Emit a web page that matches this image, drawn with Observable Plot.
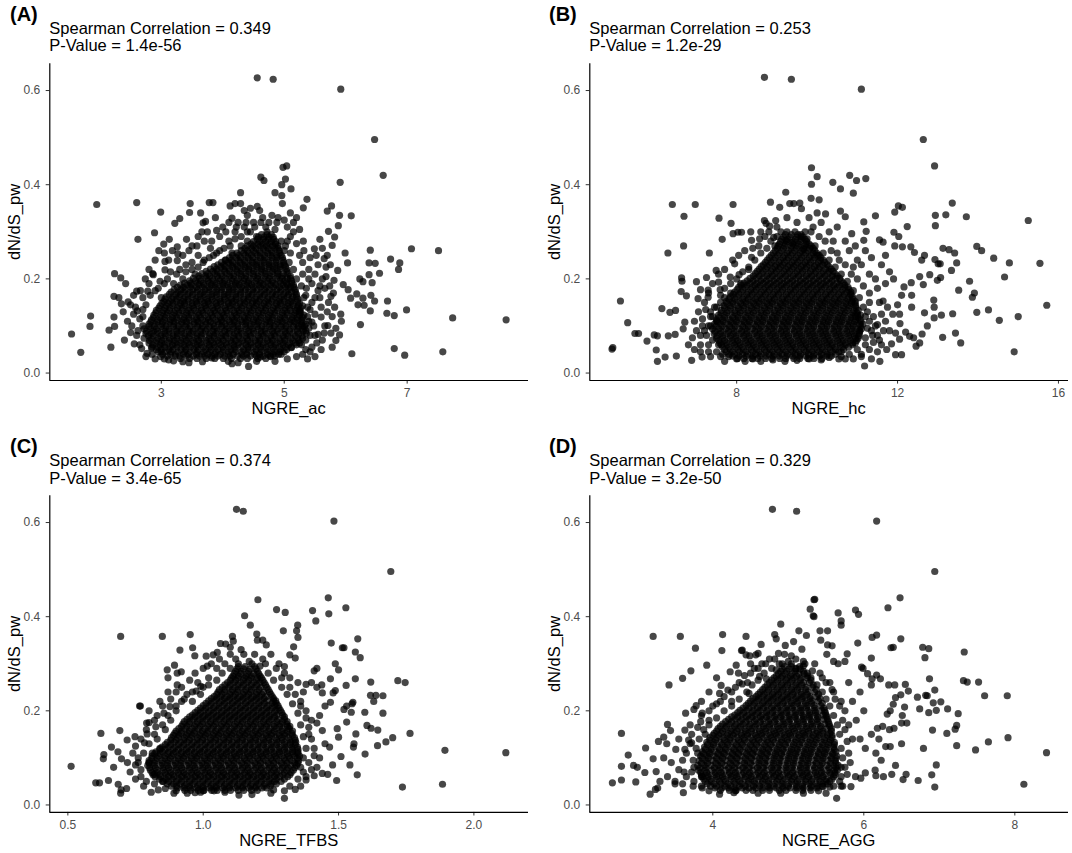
<!DOCTYPE html>
<html><head><meta charset="utf-8">
<script src="https://cdn.jsdelivr.net/npm/d3@7"></script>
<script src="https://cdn.jsdelivr.net/npm/@observablehq/plot@0.6"></script>
<style>
html,body{margin:0;padding:0;background:#fff;overflow:hidden;}
#root{position:relative;width:1072px;height:853px;font-family:"Liberation Sans",Arial,Helvetica,sans-serif;color:#000;}
.t{position:absolute;white-space:nowrap;line-height:1;}
.tag{font-weight:bold;font-size:20px;}
.sub{font-size:16.5px;}
.xt{font-size:16.5px;transform:translateX(-50%);}
.yt{font-size:16.5px;transform:translate(-50%,-50%) rotate(-90deg);}
svg{position:absolute;}
</style></head>
<body><div id="root"></div>
<script>
// ---------- text ----------
const tags = ["(A)", "(B)", "(C)", "(D)"];
const rhos = ["0.349", "0.253", "0.374", "0.329"];
const pvals = ["1.4e-56", "1.2e-29", "3.4e-65", "3.2e-50"];
const xLabels = ["NGRE_ac", "NGRE_hc", "NGRE_TFBS", "NGRE_AGG"];
const yLabel = "dN/dS_pw";
// ---------- axes ----------
const xTicks = [[3, 5, 7], [8, 12, 16], [0.5, 1.0, 1.5, 2.0], [4, 6, 8]];
const xTickText = [["3", "5", "7"], ["8", "12", "16"], ["0.5", "1.0", "1.5", "2.0"], ["4", "6", "8"]];
const xDomains = [[1.186, 8.974], [4.348, 16.25], [0.4333, 2.2017], [2.371, 8.711]];
const yTicks = [0, 0.2, 0.4, 0.6];
const yTickText = ["0.0", "0.2", "0.4", "0.6"];
const yDomain = [-0.0158, 0.6568];

// ---------- data: individually read points [x, dN/dS] ----------
const acPts = [[4.56,0.627],[4.82,0.624],[5.92,0.603],[6.47,0.496],[6.61,0.42],[5.91,0.405],[4.98,0.437],[5.04,0.44],[5.02,0.412],[4.96,0.4],[4.62,0.416],[4.67,0.409],[4.85,0.383],[4.96,0.377],[4.97,0.36],[5.11,0.391],[5.37,0.369],[5.31,0.351],[5.77,0.355],[5.7,0.344],[5.9,0.335],[6.09,0.334],[5.88,0.313],[5.72,0.301],[5.82,0.289],[5.58,0.284],[5.31,0.28],[6.4,0.261],[7.07,0.264],[7.51,0.26],[6.73,0.242],[6.88,0.234],[6.86,0.22],[5.99,0.255],[6.03,0.234],[6.38,0.234],[6.48,0.233],[6.55,0.212],[6.38,0.209],[6.23,0.2],[6.28,0.194],[6.43,0.192],[5.96,0.188],[6.04,0.177],[6.08,0.159],[6.18,0.168],[6.28,0.159],[6.41,0.165],[6.47,0.153],[6.2,0.145],[6.3,0.144],[6.4,0.132],[6.68,0.153],[6.67,0.127],[6.79,0.122],[6.99,0.134],[7.74,0.117],[8.61,0.113],[6.24,0.103],[6.1,0.041],[6.79,0.052],[6.96,0.038],[7.58,0.045],[5.3,0.04],[5.11,0.054],[5.92,0.125],[5.93,0.11],[5.9,0.081],[5.78,0.055],[5.71,0.101],[5.84,0.069],[5.53,0.064],[5.55,0.082],[5.45,0.108],[5.6,0.119],[5.76,0.163],[5.81,0.197],[5.87,0.218],[5.78,0.271],[5.49,0.264],[5.65,0.243],
[1.95,0.358],[2.6,0.362],[1.54,0.083],[1.69,0.044],[1.85,0.121],[1.84,0.099],[2.15,0.091],[2.18,0.055],[2.24,0.211],[2.34,0.202],[2.42,0.19],[2.23,0.163],[2.31,0.16],[2.23,0.119],[2.24,0.099],[2.35,0.147],[2.46,0.151],[2.6,0.174],[2.62,0.284],[2.78,0.174],[2.86,0.211],[2.87,0.209],[2.89,0.298],[2.99,0.342],[3.04,0.274],[3.05,0.255],[3.06,0.237],[3.06,0.219],[3.13,0.284],[3.22,0.318],[3.3,0.328],[3.26,0.268],[3.27,0.253],[3.26,0.239],[3.41,0.284],[3.47,0.36],[3.46,0.341],[3.64,0.34],[3.68,0.319],[3.72,0.322],[3.78,0.362],[3.84,0.362],[3.9,0.303],[4.12,0.355],[4.15,0.329],[4.29,0.36],[4.29,0.383],[4.56,0.354],[2.61,0.132],[2.55,0.125],[2.5,0.086],[2.56,0.062],[2.68,0.052],[2.77,0.042],[2.84,0.053],[2.99,0.035],[3.12,0.028],[3.2,0.026],[3.35,0.024],[3.45,0.022],[3.67,0.024],[3.82,0.032],[4.09,0.025],[4.25,0.022],[4.42,0.014],[4.61,0.034],[4.78,0.035],[2.7,0.1],[2.6,0.08],[2.65,0.115],[2.5,0.145],[2.7,0.135],[2.55,0.165],
[3.5,0.27],[3.6,0.25],[3.7,0.28],[3.8,0.265],[3.95,0.29],[4.0,0.31],[4.1,0.28],[4.2,0.3],[4.25,0.32],[4.35,0.31],[4.4,0.335],[4.45,0.3],[4.5,0.32],[4.6,0.345],[4.65,0.33],[4.7,0.31],[4.75,0.32],[4.8,0.335],[4.85,0.305],[4.9,0.33],[5.0,0.325],[5.05,0.31],[5.1,0.34],[5.15,0.32],[5.2,0.33],[5.25,0.305],[5.1,0.29],[5.2,0.275],[5.0,0.26],[5.1,0.255],[5.25,0.25],[5.3,0.235],[5.4,0.22],[5.5,0.21],[5.45,0.19],[5.55,0.175],[5.35,0.165],[5.45,0.15],[5.6,0.14],[5.5,0.125],[5.4,0.095],[5.5,0.08],[5.65,0.085],[5.35,0.07],[5.45,0.055],[5.2,0.035],[3.3,0.22],[3.4,0.23],[3.5,0.235],[3.7,0.24],[3.55,0.21],[3.35,0.2],[3.2,0.19],[3.1,0.2],[2.95,0.18],[3.0,0.16],[2.7,0.16],[2.8,0.19],[3.85,0.25],[3.95,0.26],[4.15,0.255],[4.05,0.24],[4.3,0.27],[4.4,0.28],[4.1,0.32],[3.75,0.3],[3.6,0.29],[3.88,0.33],[4.45,0.35],[4.55,0.29],[4.35,0.345],[4.2,0.36],[5.38,0.12],[5.42,0.135],[5.36,0.18],[5.48,0.1],[5.58,0.16],[5.62,0.2],[5.68,0.225],[5.4,0.2],[5.55,0.23],[5.35,0.09],[5.42,0.045],[5.62,0.07],[5.7,0.13],[5.66,0.18],
[2.65,0.06],[2.62,0.09],[2.7,0.12],[2.75,0.145],[2.82,0.165],[2.9,0.175],[2.98,0.195],[3.05,0.19],[3.15,0.215],[3.25,0.21],[3.4,0.215],[3.5,0.22],[3.6,0.225],[3.68,0.235],[3.78,0.245],[3.9,0.255],[4.02,0.265],[4.12,0.27],[4.2,0.285],[4.3,0.29],[4.4,0.3],[4.95,0.28],[5.02,0.27],[5.08,0.235],[5.15,0.22],[5.2,0.2],[5.28,0.185],[5.32,0.16],[5.38,0.14],[5.4,0.11],[5.42,0.08],[5.35,0.05],[5.05,0.03],[4.95,0.04],[2.9,0.03],[3.0,0.045]];
const acHalo = [[5.32,0.26],[5.42,0.245],[5.52,0.25],[5.62,0.265],[5.7,0.25],[5.75,0.23],[5.68,0.205],[5.74,0.185],[5.8,0.17],[5.72,0.15],[5.82,0.14],[5.78,0.12],[5.84,0.095],[5.76,0.085],[5.66,0.1],[5.6,0.05],[5.5,0.035],[5.38,0.03],[5.58,0.185],[5.5,0.16],[5.3,0.21],[5.25,0.13],[5.3,0.1],[5.28,0.06],[2.4,0.07],[2.45,0.11],[2.38,0.13],[2.52,0.1],[2.58,0.14],[2.66,0.175],[2.74,0.2],[2.8,0.22],[2.9,0.24],[2.96,0.26],[3.12,0.24],[3.18,0.26],[3.35,0.25],[3.45,0.26],[3.58,0.27],[3.66,0.3],[3.82,0.28],[4.05,0.3],[4.22,0.31],[4.38,0.32],[4.52,0.31],[4.62,0.32],[4.72,0.3],[4.88,0.32],[5.05,0.28],[5.15,0.3],[2.75,0.035],[2.85,0.04],[3.05,0.03],[4.15,0.02],[4.55,0.025],[4.85,0.025]];

const hcPts = [[8.69,0.628],[9.36,0.624],[11.1,0.603],[12.64,0.496],[12.92,0.44],[9.86,0.436],[9.86,0.401],[10.0,0.417],[9.85,0.371],[10.81,0.42],[10.98,0.409],[11.21,0.413],[10.58,0.391],[10.39,0.405],[10.9,0.382],[10.05,0.368],[13.36,0.361],[12.94,0.335],[13.2,0.336],[13.71,0.332],[12.94,0.313],[15.25,0.324],[13.97,0.269],[14.09,0.26],[14.39,0.244],[14.78,0.234],[15.54,0.233],[14.66,0.204],[15.71,0.144],[15.0,0.12],[14.53,0.112],[14.26,0.134],[13.97,0.129],[13.79,0.195],[13.52,0.176],[13.91,0.17],[13.86,0.161],[14.9,0.045],[13.57,0.064],[13.44,0.085],[13.12,0.076],[13.37,0.126],[13.09,0.123],[12.91,0.117],[12.74,0.1],[12.67,0.128],[12.91,0.14],[12.9,0.155],[13.34,0.218],[13.47,0.234],[13.42,0.255],[13.28,0.262],[13.13,0.265],[13.01,0.232],[13.06,0.232],[12.93,0.241],[13.07,0.203],[12.99,0.197],[12.8,0.209],[12.67,0.25],[12.6,0.24],[12.42,0.256],[12.33,0.268],[12.24,0.311],[11.93,0.342],[12.02,0.355],[12.12,0.352],[11.91,0.299],[12.03,0.29],[11.93,0.27],[12.12,0.268],[11.45,0.334],[11.16,0.321],[11.22,0.301],[10.86,0.296],[10.58,0.344],[10.7,0.332],[10.21,0.338],[11.16,0.282],[11.55,0.283],[11.64,0.278],[12.55,0.205],[12.64,0.188],[12.35,0.14],[12.61,0.083],[12.55,0.064],[12.46,0.057],[12.4,0.075],[12.1,0.039],[11.95,0.039],[11.56,0.025],[11.18,0.015],[11.35,0.03],[11.1,0.04],[10.7,0.03],[10.54,0.03],[12.06,0.105],[12.05,0.125],[12.0,0.145],[12.16,0.183],[12.34,0.192],[12.35,0.165],[12.1,0.165],[11.64,0.153],[11.75,0.14],[11.88,0.125],[11.7,0.11],[11.5,0.103],[11.8,0.09],[11.5,0.08],[11.95,0.085],[12.2,0.087],[12.3,0.078],[11.85,0.062],[12.05,0.072],[11.73,0.05],[11.6,0.06],[11.5,0.045],[11.4,0.065],[11.3,0.21],[11.45,0.2],[11.6,0.23],[11.8,0.215],[11.9,0.2],[11.7,0.19],[11.5,0.18],[11.35,0.245],[11.7,0.25],[11.2,0.26],[10.95,0.27],[11.0,0.24],[11.3,0.17],[11.25,0.13],[11.35,0.09],[11.2,0.06],[11.3,0.11],
[4.9,0.051],[4.92,0.054],[5.11,0.153],[5.29,0.107],[5.47,0.084],[5.56,0.084],[5.77,0.068],[5.95,0.081],[6.03,0.079],[6.0,0.049],[6.03,0.025],[6.22,0.034],[6.14,0.137],[6.29,0.255],[6.4,0.358],[6.69,0.333],[6.68,0.27],[6.97,0.358],[7.32,0.255],[7.56,0.329],[7.64,0.284],[7.86,0.318],[7.91,0.358],[7.91,0.296],[8.03,0.299],[8.12,0.299],[6.3,0.079],[6.47,0.082],[6.5,0.036],[6.34,0.129],[6.48,0.133],[6.63,0.202],[6.64,0.195],[6.62,0.173],[6.75,0.164],[6.71,0.108],[6.67,0.094],[6.88,0.027],[7.0,0.194],[7.04,0.158],[7.1,0.177],[7.25,0.203],[7.29,0.176],[7.29,0.161],[7.49,0.218],[7.55,0.193],[7.59,0.177],[7.14,0.034],[7.23,0.135],[7.15,0.115],[7.7,0.025],[7.84,0.204],[7.95,0.232],[8.06,0.209],[8.21,0.025],[8.37,0.282],[8.4,0.265],[8.37,0.246],[8.57,0.285],[8.84,0.363],[8.69,0.324],[8.73,0.318],[8.97,0.324],[9.07,0.352],[9.22,0.384],[9.32,0.36],[9.42,0.36],[9.57,0.361],[9.61,0.349],[8.92,0.288],[8.95,0.27],[9.23,0.282],[9.38,0.277],[8.82,0.312],[9.25,0.33],[9.66,0.263],[6.8,0.06],[6.9,0.075],[7.0,0.09],[6.95,0.05],[7.1,0.06],[7.3,0.045],[7.2,0.09],[7.35,0.1],[7.4,0.07],[7.5,0.11],[7.45,0.14],[7.35,0.13],[7.6,0.15],[7.7,0.16],[7.55,0.06],[7.65,0.04],[7.8,0.035],[8.0,0.03],[8.4,0.03],[8.6,0.025],[8.9,0.028],[9.2,0.025],[9.5,0.027],[9.8,0.03],[10.1,0.028],[10.3,0.033],[9.7,0.3],[9.9,0.31],[10.1,0.32],[10.3,0.3],[10.5,0.31],[10.0,0.34],[9.8,0.33],[10.4,0.28],[10.7,0.28],[10.5,0.255],[10.8,0.26],[10.9,0.225],[11.1,0.23],[8.6,0.3],[9.0,0.31],[9.5,0.32],[8.3,0.22],[8.1,0.19],[7.85,0.17],[7.4,0.12],
[7.3,0.06],[7.25,0.08],[7.3,0.1],[7.35,0.12],[7.5,0.14],[7.6,0.165],[7.7,0.18],[7.85,0.19],[8.0,0.2],[8.15,0.215],[8.3,0.225],[8.45,0.24],[8.6,0.255],[8.75,0.265],[8.85,0.28],[9.0,0.29],[9.25,0.3],[9.75,0.285],[9.95,0.27],[10.15,0.255],[10.3,0.24],[10.45,0.225],[10.6,0.21],[10.75,0.195],[10.9,0.175],[11.05,0.16],[11.15,0.14],[11.2,0.12],[11.25,0.095],[11.2,0.075],[11.0,0.05],[10.8,0.04],[10.6,0.035],[7.5,0.045],[7.6,0.035]];
const hcHalo = [[7.1,0.08],[7.15,0.1],[7.05,0.13],[7.2,0.15],[7.3,0.17],[7.4,0.19],[7.55,0.21],[7.7,0.22],[7.9,0.24],[8.05,0.25],[8.2,0.26],[8.35,0.3],[8.55,0.27],[8.7,0.29],[8.8,0.3],[9.1,0.3],[9.45,0.3],[9.6,0.29],[9.85,0.3],[10.05,0.29],[10.2,0.28],[10.35,0.26],[10.55,0.24],[10.7,0.23],[10.85,0.21],[11.0,0.2],[11.15,0.185],[11.3,0.15],[11.4,0.12],[11.45,0.1],[11.38,0.08],[11.3,0.05],[11.1,0.035],[10.9,0.03],[7.35,0.035],[7.1,0.045],[6.95,0.11],[11.55,0.15],[11.6,0.125],[11.65,0.09],[11.55,0.07],[10.95,0.12],[11.05,0.09]];

const tfPts = [[1.123,0.628],[1.148,0.624],[1.483,0.603],[1.693,0.496],[0.695,0.358],[0.849,0.358],[0.952,0.362],[0.512,0.082],[0.603,0.047],[0.617,0.047],[0.65,0.052],[0.622,0.152],[0.633,0.107],[0.631,0.098],[0.661,0.123],[0.669,0.08],[0.685,0.113],[0.692,0.158],[0.698,0.098],[0.686,0.044],[0.695,0.025],[0.697,0.032],[0.717,0.035],[0.719,0.138],[0.748,0.145],[0.765,0.21],[0.768,0.21],[0.783,0.132],[0.791,0.174],[0.793,0.151],[0.812,0.11],[0.808,0.027],[0.825,0.166],[0.834,0.032],[0.855,0.195],[0.867,0.287],[0.87,0.27],[0.877,0.209],[0.894,0.297],[0.914,0.329],[0.904,0.28],[0.904,0.255],[0.919,0.283],[0.892,0.025],[0.941,0.025],[0.961,0.334],[0.969,0.317],[0.974,0.242],[0.991,0.252],[1.011,0.316],[1.015,0.295],[1.037,0.319],[1.052,0.324],[1.064,0.343],[1.083,0.342],[1.108,0.358],[1.111,0.348],[1.1,0.335],[1.153,0.402],[1.174,0.382],[1.202,0.436],[1.198,0.363],[1.2,0.35],[1.233,0.34],[1.271,0.415],[1.22,0.35],[1.132,0.021],[1.08,0.027],[1.0,0.03],[0.99,0.027],[0.97,0.026],[1.04,0.03],
[1.303,0.409],[1.404,0.413],[1.462,0.44],[1.464,0.406],[1.416,0.391],[1.527,0.419],[1.473,0.344],[1.571,0.353],[1.514,0.334],[1.52,0.334],[1.562,0.325],[1.58,0.313],[1.488,0.3],[1.5,0.287],[1.349,0.382],[1.345,0.37],[1.35,0.356],[1.334,0.336],[1.34,0.312],[1.32,0.319],[1.296,0.37],[1.3,0.294],[1.41,0.285],[1.42,0.29],[1.47,0.268],[1.562,0.268],[1.528,0.254],[1.619,0.261],[1.719,0.264],[1.746,0.26],[1.618,0.233],[1.638,0.233],[1.664,0.232],[1.63,0.22],[1.664,0.195],[1.597,0.197],[1.605,0.169],[1.62,0.163],[1.645,0.159],[1.553,0.218],[1.547,0.197],[1.53,0.176],[1.488,0.243],[1.438,0.255],[1.495,0.162],[1.5,0.144],[1.564,0.151],[1.557,0.13],[1.555,0.123],[1.598,0.108],[1.509,0.103],[1.467,0.123],[1.478,0.085],[1.542,0.085],[1.569,0.064],[1.493,0.052],[1.644,0.126],[1.675,0.134],[1.7,0.143],[1.764,0.152],[1.893,0.116],[2.118,0.111],[1.736,0.038],[1.884,0.044],[1.3,0.014],[1.34,0.033],[1.32,0.04],[1.26,0.032],[1.46,0.065],[1.44,0.067],[1.41,0.062],[1.38,0.053],[1.42,0.08],[1.43,0.1],[1.45,0.13],[1.44,0.158],[1.42,0.174],[1.43,0.19],[1.45,0.21],[1.47,0.218],[1.48,0.238],[1.44,0.238],[1.42,0.25],[1.4,0.26],[1.38,0.256],[1.53,0.21],[1.52,0.203],[1.55,0.215],
[0.75,0.085],[0.77,0.06],[0.73,0.07],[0.76,0.1],[0.8,0.09],[0.82,0.065],[0.79,0.05],[0.84,0.12],[0.83,0.14],[0.86,0.16],[0.85,0.05],[0.88,0.18],[0.9,0.2],[0.92,0.22],[0.94,0.235],[0.96,0.22],[0.98,0.26],[1.0,0.25],[1.02,0.27],[1.05,0.29],[1.08,0.3],[1.12,0.31],[1.15,0.32],[1.18,0.3],[1.22,0.31],[1.25,0.32],[1.28,0.3],[1.3,0.28],[1.32,0.27],[1.35,0.26],[1.37,0.24],[1.36,0.22],[1.38,0.2],[1.4,0.18],[1.39,0.15],[1.41,0.12],[1.39,0.09],[1.37,0.07],[0.82,0.18],[0.8,0.2],[0.84,0.22],[0.87,0.24],
[0.77,0.075],[0.76,0.09],[0.78,0.11],[0.8,0.13],[0.82,0.15],[0.85,0.17],[0.87,0.19],[0.9,0.21],[0.93,0.225],[0.96,0.24],[0.99,0.235],[1.02,0.255],[1.05,0.265],[1.07,0.28],[1.1,0.29],[1.13,0.3],[1.17,0.305],[1.21,0.295],[1.24,0.28],[1.26,0.265],[1.29,0.25],[1.31,0.235],[1.33,0.215],[1.35,0.195],[1.36,0.17],[1.37,0.145],[1.38,0.12],[1.37,0.1],[1.36,0.08],[1.35,0.055],[1.3,0.03],[0.86,0.035],[0.82,0.045]];
const tfHalo = [[0.72,0.09],[0.74,0.11],[0.75,0.125],[0.77,0.14],[0.79,0.16],[0.8,0.175],[0.83,0.19],[0.85,0.21],[0.88,0.225],[0.9,0.24],[0.92,0.25],[0.95,0.265],[0.97,0.28],[1.0,0.29],[1.03,0.3],[1.06,0.31],[1.1,0.32],[1.14,0.33],[1.19,0.32],[1.23,0.3],[1.27,0.29],[1.29,0.27],[1.32,0.25],[1.34,0.235],[1.36,0.21],[1.38,0.185],[1.39,0.165],[1.4,0.14],[1.41,0.105],[1.4,0.075],[1.38,0.06],[1.36,0.04],[1.25,0.025],[1.18,0.022],[0.9,0.03],[0.78,0.04],[0.75,0.055]];

const agPts = [[4.79,0.628],[5.11,0.624],[6.17,0.603],[6.94,0.496],[3.21,0.358],[3.57,0.358],[3.77,0.333],[4.13,0.362],[4.12,0.328],[4.44,0.358],[4.38,0.328],[3.92,0.297],[3.71,0.285],[3.6,0.269],[3.42,0.255],[3.64,0.195],[3.75,0.203],[3.78,0.211],[3.86,0.195],[3.84,0.177],[2.79,0.152],[2.88,0.106],[2.79,0.082],[2.79,0.053],[2.67,0.047],[2.95,0.084],[3.0,0.08],[2.98,0.049],[3.11,0.121],[3.1,0.069],[3.21,0.098],[3.25,0.071],[3.28,0.135],[3.35,0.144],[3.4,0.171],[3.44,0.158],[3.39,0.13],[3.17,0.023],[3.24,0.033],[3.27,0.036],[3.51,0.118],[3.63,0.159],[3.63,0.118],[3.68,0.138],[3.72,0.132],[3.61,0.026],[3.74,0.04],[3.86,0.036],[4.09,0.023],[4.28,0.026],[4.11,0.254],[4.09,0.237],[4.2,0.244],[4.23,0.283],[4.31,0.297],[4.34,0.28],[4.39,0.329],[4.44,0.319],[4.49,0.317],[4.57,0.319],[4.6,0.322],[4.64,0.341],[4.5,0.3],[4.39,0.257],[4.46,0.26],[4.48,0.237],[4.62,0.273],[4.71,0.268],[4.82,0.362],[4.84,0.353],[4.9,0.384],[4.96,0.339],[5.07,0.347],[5.04,0.317],[5.04,0.3],[4.87,0.322],[4.84,0.287],[5.2,0.305],[5.18,0.331],[5.24,0.36],[5.34,0.436],[5.29,0.416],[5.33,0.402],[5.14,0.37],
[6.48,0.44],[6.32,0.419],[5.89,0.414],[5.93,0.405],[5.66,0.408],[5.7,0.391],[5.7,0.382],[5.35,0.437],[5.34,0.4],[6.49,0.353],[6.17,0.361],[6.11,0.356],[5.92,0.344],[6.36,0.334],[6.39,0.335],[6.78,0.335],[6.86,0.332],[6.81,0.313],[7.33,0.325],[6.1,0.312],[5.78,0.321],[5.52,0.37],[5.42,0.37],[5.43,0.35],[5.52,0.34],[5.58,0.338],[5.51,0.32],[5.6,0.305],[5.75,0.305],[5.66,0.3],[6.87,0.268],[7.32,0.264],[7.37,0.261],[7.52,0.261],[7.6,0.232],[7.9,0.232],[6.94,0.244],[6.82,0.233],[6.84,0.232],[6.71,0.229],[6.92,0.217],[7.02,0.219],[7.11,0.204],[6.96,0.201],[6.86,0.196],[6.74,0.204],[7.25,0.194],[7.23,0.169],[7.21,0.161],[7.1,0.152],[6.91,0.159],[7.23,0.126],[7.48,0.117],[7.65,0.134],[7.91,0.143],[8.42,0.111],[8.12,0.044],[6.79,0.12],[6.96,0.085],[6.9,0.064],[6.94,0.038],[6.72,0.052],[6.56,0.065],[6.52,0.054],[6.42,0.084],[6.37,0.065],[6.26,0.06],[6.5,0.13],[6.41,0.255],[6.55,0.256],[6.59,0.242],[6.49,0.234],[6.54,0.208],[6.51,0.19],[6.57,0.174],[6.5,0.174],[6.4,0.163],[6.34,0.16],[6.25,0.167],[6.18,0.163],[6.39,0.214],[6.35,0.2],[6.31,0.193],[6.42,0.228],[6.33,0.255],[6.22,0.268],[6.17,0.276],[6.11,0.268],[6.1,0.255],[6.05,0.279],[5.99,0.29],[5.97,0.293],[5.64,0.014],[5.6,0.04],[5.83,0.039],[5.7,0.04],[5.55,0.038],[5.46,0.039],[5.96,0.057],[5.89,0.06],[6.02,0.068],[6.15,0.074],[6.16,0.062],[6.16,0.11],[6.29,0.124],[6.35,0.124],[6.23,0.095],[6.02,0.12],[5.95,0.14],[6.1,0.15],[6.2,0.14],[5.9,0.18],[6.0,0.2],[5.85,0.22],[5.95,0.24],[5.8,0.26],
[3.5,0.05],[3.55,0.075],[3.45,0.09],[3.6,0.095],[3.65,0.06],[3.75,0.08],[3.8,0.11],[3.85,0.06],[3.9,0.15],[3.95,0.18],[4.0,0.21],[4.1,0.22],[3.95,0.24],[3.85,0.22],[4.05,0.27],[4.25,0.22],[4.3,0.25],[4.55,0.29],[4.65,0.3],[4.75,0.31],[4.92,0.3],[5.1,0.29],[5.25,0.28],[5.35,0.3],[5.45,0.27],[5.55,0.26],[5.6,0.24],[5.7,0.22],[5.75,0.2],[5.8,0.17],[5.85,0.14],[5.8,0.11],[5.75,0.08],[5.7,0.06],[3.4,0.06],[3.3,0.05],[3.35,0.1],[3.55,0.14],[3.7,0.17],[3.5,0.045],
[3.75,0.05],[3.72,0.07],[3.74,0.095],[3.78,0.12],[3.82,0.14],[3.88,0.16],[3.95,0.17],[4.05,0.185],[4.15,0.2],[4.25,0.21],[4.35,0.225],[4.45,0.24],[4.52,0.255],[4.6,0.265],[4.68,0.28],[4.78,0.29],[4.88,0.3],[5.0,0.305],[5.2,0.295],[5.3,0.27],[5.38,0.255],[5.45,0.24],[5.5,0.225],[5.55,0.21],[5.6,0.19],[5.65,0.17],[5.68,0.15],[5.7,0.12],[5.72,0.1],[5.7,0.08],[5.68,0.05],[5.4,0.03],[3.95,0.03],[3.85,0.04]];
const agHalo = [[3.6,0.045],[3.62,0.07],[3.65,0.11],[3.7,0.13],[3.72,0.15],[3.8,0.165],[3.85,0.19],[3.95,0.2],[4.05,0.215],[4.15,0.23],[4.25,0.24],[4.35,0.26],[4.42,0.275],[4.5,0.28],[4.6,0.29],[4.7,0.3],[4.82,0.31],[4.95,0.32],[5.1,0.31],[5.22,0.3],[5.32,0.285],[5.42,0.28],[5.5,0.26],[5.58,0.245],[5.62,0.225],[5.68,0.21],[5.72,0.18],[5.75,0.16],[5.78,0.135],[5.82,0.09],[5.78,0.065],[5.72,0.04],[5.5,0.025],[5.2,0.025],[4.9,0.025],[4.6,0.025],[4.3,0.03]];

// ---------- data: saturated core, read row by row (two interleaved sets of rows) ----------
const coreY = [0.031,0.04,0.05,0.06,0.069,0.079,0.089,0.099,0.109,0.118,0.128,0.138,0.148,0.157,0.167,0.177,0.187,0.196,0.206,0.216,0.226,0.235,0.245,0.255,0.265,0.274,0.284,0.294];
const coreY2 = [0.036,0.045,0.055,0.064,0.074,0.084,0.094,0.104,0.113,0.123,0.133,0.143,0.152,0.162,0.172,0.182,0.191,0.201,0.211,0.221,0.23,0.24,0.25,0.26,0.27,0.279,0.289];

const acCore = [
[3.31,3.46,3.58,3.73,3.87,4.01,4.14,4.29,4.4,4.57,4.7],
[3.02,3.15,3.23,3.36,3.44,3.57,3.66,3.76,3.87,3.96,4.09,4.17,4.31,4.39,4.52,4.6,4.73,4.82,4.91],
[2.92,3.0,3.12,3.19,3.32,3.4,3.53,3.6,3.72,3.81,3.92,4.01,4.13,4.2,4.34,4.41,4.54,4.62,4.73,4.83,4.94,5.04],
[2.86,2.98,3.05,3.18,3.26,3.37,3.46,3.58,3.65,3.78,3.86,3.97,4.06,4.18,4.25,4.38,4.46,4.57,4.66,4.78,4.86,4.98,5.07,5.2],
[2.81,2.92,3.01,3.13,3.21,3.32,3.41,3.52,3.61,3.73,3.81,3.92,4.01,4.13,4.21,4.32,4.41,4.53,4.6,4.73,4.81,4.93,5.01,5.14,5.24],
[2.79,2.87,2.99,3.07,3.19,3.26,3.38,3.46,3.58,3.65,3.78,3.86,3.98,4.05,4.18,4.26,4.38,4.45,4.58,4.66,4.78,4.85,4.98,5.06,5.18,5.29],
[2.76,2.87,2.94,3.06,3.13,3.25,3.33,3.45,3.52,3.64,3.72,3.84,3.91,4.03,4.11,4.23,4.3,4.42,4.5,4.62,4.69,4.81,4.89,5.01,5.09,5.21,5.31],
[2.8,2.89,3.0,3.08,3.2,3.28,3.39,3.47,3.59,3.67,3.78,3.86,3.98,4.06,4.17,4.25,4.37,4.45,4.56,4.64,4.76,4.84,4.95,5.03,5.15,5.23,5.33],
[2.83,2.94,3.02,3.14,3.21,3.33,3.41,3.53,3.6,3.72,3.8,3.92,3.99,4.11,4.19,4.31,4.38,4.5,4.58,4.7,4.77,4.89,4.97,5.09,5.17,5.29],
[2.87,2.98,3.06,3.18,3.25,3.37,3.45,3.57,3.64,3.76,3.84,3.96,4.03,4.15,4.23,4.35,4.42,4.54,4.62,4.74,4.81,4.93,5.01,5.13,5.21,5.3],
[2.91,3.02,3.1,3.21,3.29,3.41,3.49,3.6,3.68,3.8,3.88,3.99,4.07,4.19,4.27,4.38,4.46,4.58,4.66,4.77,4.85,4.97,5.05,5.17,5.27],
[2.96,3.06,3.14,3.26,3.34,3.45,3.53,3.65,3.73,3.84,3.92,4.04,4.12,4.23,4.31,4.43,4.51,4.62,4.7,4.82,4.9,5.01,5.09,5.21,5.27],
[3.01,3.11,3.19,3.31,3.38,3.5,3.58,3.7,3.77,3.89,3.97,4.09,4.16,4.28,4.36,4.48,4.55,4.67,4.75,4.87,4.94,5.06,5.14,5.25],
[3.06,3.17,3.25,3.36,3.44,3.56,3.64,3.75,3.83,3.95,4.03,4.14,4.22,4.34,4.42,4.53,4.61,4.73,4.81,4.92,5.0,5.12,5.22],
[3.13,3.24,3.31,3.43,3.51,3.63,3.7,3.82,3.9,4.02,4.09,4.21,4.29,4.41,4.48,4.6,4.68,4.8,4.87,4.99,5.07,5.2],
[3.21,3.32,3.39,3.51,3.59,3.71,3.78,3.9,3.98,4.1,4.17,4.29,4.37,4.49,4.56,4.68,4.76,4.88,4.95,5.07,5.18],
[3.31,3.42,3.49,3.61,3.69,3.81,3.88,4.0,4.08,4.2,4.27,4.39,4.47,4.59,4.66,4.78,4.86,4.98,5.05,5.15],
[3.46,3.56,3.64,3.76,3.84,3.95,4.03,4.15,4.23,4.34,4.42,4.54,4.62,4.73,4.81,4.93,5.01,5.12],
[3.61,3.72,3.79,3.91,3.99,4.11,4.18,4.3,4.38,4.5,4.57,4.69,4.77,4.89,4.96,5.1],
[3.73,3.84,3.91,4.03,4.11,4.23,4.3,4.42,4.5,4.62,4.69,4.81,4.89,5.04],
[3.86,3.97,4.04,4.16,4.24,4.36,4.43,4.55,4.63,4.75,4.82,4.94,5.02],
[3.98,4.09,4.16,4.28,4.36,4.48,4.55,4.67,4.75,4.87,4.99],
[4.11,4.22,4.29,4.41,4.49,4.61,4.68,4.8,4.88,4.97],
[4.23,4.34,4.42,4.53,4.61,4.73,4.81,4.92],
[4.36,4.47,4.54,4.66,4.74,4.85,4.9],
[4.46,4.57,4.65,4.76,4.86],
[4.56,4.66,4.74,4.83],
[4.63,4.72,4.79]];
const acCore2 = [
[3.1,3.22,3.3,3.41,3.52,3.62,3.71,3.82,3.92,4.03,4.12,4.24,4.34,4.45,4.55,4.66,4.77,4.85],
[2.95,3.06,3.16,3.27,3.38,3.47,3.58,3.69,3.79,3.89,4.0,4.1,4.21,4.31,4.42,4.52,4.63,4.73,4.84,4.93,5.0],
[2.85,2.95,3.06,3.15,3.26,3.37,3.47,3.57,3.68,3.78,3.88,3.99,4.09,4.19,4.3,4.41,4.5,4.61,4.71,4.82,4.92,5.02,5.12],
[2.8,2.91,3.01,3.11,3.22,3.32,3.43,3.53,3.63,3.74,3.84,3.94,4.05,4.15,4.26,4.36,4.46,4.57,4.67,4.77,4.88,4.98,5.09,5.18,5.25],
[2.72,2.83,2.94,3.04,3.14,3.25,3.35,3.45,3.56,3.66,3.77,3.87,3.97,4.08,4.18,4.28,4.39,4.49,4.6,4.7,4.8,4.91,5.01,5.11,5.22,5.3],
[2.75,2.85,2.96,3.06,3.17,3.27,3.37,3.48,3.58,3.68,3.79,3.89,4.0,4.1,4.2,4.31,4.41,4.51,4.62,4.72,4.83,4.93,5.03,5.14,5.24,5.36],
[2.72,2.82,2.92,3.03,3.13,3.24,3.34,3.44,3.55,3.65,3.75,3.86,3.96,4.07,4.17,4.27,4.38,4.48,4.58,4.69,4.79,4.9,5.0,5.1,5.21,5.3],
[2.8,2.9,3.01,3.11,3.21,3.32,3.42,3.53,3.63,3.73,3.84,3.94,4.04,4.15,4.25,4.36,4.46,4.56,4.67,4.77,4.87,4.98,5.08,5.19,5.28,5.35],
[2.84,2.94,3.05,3.15,3.26,3.36,3.46,3.57,3.67,3.77,3.88,3.98,4.09,4.19,4.29,4.4,4.5,4.6,4.71,4.81,4.92,5.02,5.12,5.22,5.28],
[2.88,2.99,3.09,3.19,3.3,3.4,3.5,3.61,3.71,3.82,3.92,4.02,4.13,4.23,4.33,4.44,4.54,4.65,4.75,4.85,4.96,5.06,5.16,5.25,5.32],
[2.92,3.03,3.13,3.23,3.34,3.44,3.55,3.65,3.75,3.86,3.96,4.06,4.17,4.27,4.38,4.48,4.58,4.69,4.79,4.89,5.0,5.1,5.19,5.25],
[2.98,3.08,3.19,3.29,3.39,3.5,3.6,3.71,3.81,3.91,4.02,4.12,4.22,4.33,4.43,4.54,4.64,4.74,4.85,4.95,5.05,5.15,5.23,5.3],
[3.04,3.14,3.25,3.35,3.45,3.56,3.66,3.76,3.87,3.97,4.08,4.18,4.28,4.39,4.49,4.59,4.7,4.8,4.91,5.01,5.11,5.22],
[3.08,3.19,3.29,3.39,3.5,3.6,3.71,3.81,3.91,4.02,4.12,4.22,4.33,4.43,4.54,4.64,4.74,4.85,4.95,5.05,5.14,5.2],
[3.16,3.27,3.37,3.47,3.58,3.68,3.79,3.89,3.99,4.1,4.2,4.3,4.41,4.51,4.62,4.72,4.82,4.93,5.03,5.12,5.18],
[3.26,3.36,3.47,3.57,3.67,3.78,3.88,3.99,4.09,4.19,4.3,4.4,4.5,4.61,4.71,4.82,4.92,5.02,5.1,5.16],
[3.38,3.48,3.59,3.69,3.79,3.9,4.0,4.11,4.21,4.31,4.42,4.52,4.62,4.73,4.83,4.94,5.04,5.12],
[3.52,3.62,3.73,3.83,3.93,4.04,4.14,4.25,4.35,4.45,4.56,4.66,4.76,4.87,4.97,5.05,5.1],
[3.66,3.76,3.87,3.97,4.07,4.18,4.28,4.38,4.49,4.59,4.7,4.8,4.9,4.99,5.06],
[3.8,3.9,4.01,4.11,4.21,4.32,4.42,4.52,4.63,4.73,4.84,4.93,5.04],
[3.92,4.02,4.13,4.23,4.33,4.44,4.54,4.64,4.75,4.85,4.93,5.0],
[4.04,4.14,4.25,4.35,4.45,4.56,4.66,4.77,4.87,4.98],
[4.16,4.26,4.37,4.47,4.57,4.68,4.78,4.88,4.95],
[4.3,4.4,4.5,4.6,4.7,4.8,4.92],
[4.4,4.5,4.61,4.71,4.81,4.9],
[4.5,4.6,4.7,4.79,4.86],
[4.58,4.67,4.75,4.82]];

const hcCore = [
[8.02,8.18,8.38,8.53,8.72,8.88,9.07,9.22,9.42,9.57,9.77,9.92,10.12],
[7.81,7.95,8.14,8.28,8.47,8.61,8.8,8.94,9.12,9.27,9.45,9.59,9.78,9.92,10.1,10.25,10.45],
[7.7,7.84,8.03,8.17,8.36,8.5,8.69,8.83,9.01,9.16,9.34,9.48,9.67,9.81,9.99,10.14,10.32,10.46,10.66],
[7.62,7.76,7.95,8.09,8.28,8.42,8.61,8.75,8.93,9.08,9.26,9.4,9.59,9.73,9.91,10.06,10.24,10.38,10.57,10.71,10.88],
[7.56,7.7,7.89,8.03,8.22,8.36,8.55,8.69,8.87,9.02,9.2,9.34,9.53,9.67,9.85,10.0,10.18,10.32,10.51,10.65,10.83,10.98],
[7.51,7.66,7.84,7.99,8.17,8.31,8.5,8.64,8.82,8.97,9.15,9.29,9.48,9.62,9.8,9.95,10.13,10.27,10.46,10.6,10.78,10.93,11.04],
[7.46,7.61,7.79,7.94,8.12,8.26,8.45,8.59,8.77,8.92,9.1,9.24,9.43,9.57,9.75,9.9,10.08,10.22,10.41,10.55,10.73,10.88,11.06],
[7.48,7.64,7.82,7.96,8.15,8.29,8.47,8.62,8.8,8.94,9.13,9.27,9.45,9.6,9.78,9.92,10.11,10.25,10.43,10.58,10.76,10.9,11.08],
[7.52,7.67,7.85,8.0,8.18,8.32,8.51,8.65,8.83,8.98,9.16,9.3,9.49,9.63,9.81,9.96,10.14,10.28,10.47,10.61,10.79,10.94,11.09],
[7.56,7.71,7.9,8.04,8.22,8.37,8.55,8.69,8.88,9.02,9.2,9.35,9.53,9.67,9.86,10.0,10.18,10.33,10.51,10.65,10.84,11.02],
[7.61,7.76,7.95,8.09,8.27,8.42,8.6,8.74,8.93,9.07,9.25,9.4,9.58,9.72,9.91,10.05,10.23,10.38,10.56,10.7,10.89,10.99],
[7.7,7.85,8.04,8.18,8.36,8.51,8.69,8.83,9.02,9.16,9.34,9.49,9.67,9.81,10.0,10.14,10.32,10.47,10.65,10.79,10.97],
[7.76,7.91,8.1,8.24,8.42,8.57,8.75,8.89,9.08,9.22,9.4,9.55,9.73,9.87,10.06,10.2,10.38,10.53,10.71,10.85,10.94],
[7.81,7.96,8.15,8.29,8.47,8.62,8.8,8.94,9.13,9.27,9.45,9.6,9.78,9.92,10.11,10.25,10.43,10.58,10.76,10.89],
[7.91,8.06,8.25,8.39,8.57,8.72,8.9,9.04,9.23,9.37,9.55,9.7,9.88,10.02,10.21,10.35,10.53,10.68,10.84],
[8.01,8.16,8.35,8.49,8.67,8.82,9.0,9.14,9.33,9.47,9.65,9.8,9.98,10.12,10.31,10.45,10.63,10.79],
[8.11,8.26,8.45,8.59,8.77,8.92,9.1,9.24,9.43,9.57,9.75,9.9,10.08,10.22,10.41,10.55,10.69],
[8.26,8.41,8.6,8.74,8.92,9.07,9.25,9.39,9.58,9.72,9.9,10.05,10.23,10.37,10.59],
[8.41,8.56,8.75,8.89,9.07,9.22,9.4,9.54,9.73,9.87,10.05,10.2,10.38,10.5],
[8.51,8.66,8.85,8.99,9.17,9.32,9.5,9.64,9.83,9.97,10.15,10.3,10.4],
[8.61,8.76,8.95,9.09,9.27,9.42,9.6,9.74,9.93,10.07,10.29],
[8.71,8.86,9.05,9.19,9.37,9.52,9.7,9.84,10.03,10.19],
[8.81,8.96,9.15,9.29,9.47,9.62,9.8,9.94,10.09],
[8.91,9.06,9.25,9.39,9.57,9.72,9.9,9.99],
[9.01,9.16,9.35,9.49,9.67,9.82,9.9],
[9.06,9.21,9.4,9.54,9.72,9.8],
[9.12,9.27,9.46,9.6,9.7],
[9.21,9.36,9.52,9.6]];
const hcCore2 = [
[7.9,8.06,8.24,8.4,8.57,8.73,8.9,9.06,9.24,9.4,9.57,9.73,9.9,10.06,10.24,10.35],
[7.74,7.9,8.07,8.23,8.4,8.56,8.73,8.89,9.06,9.22,9.39,9.55,9.72,9.88,10.05,10.21,10.38,10.54,10.6],
[7.65,7.81,7.98,8.14,8.31,8.47,8.64,8.8,8.97,9.13,9.3,9.46,9.63,9.79,9.96,10.12,10.29,10.45,10.62,10.78],
[7.58,7.74,7.91,8.07,8.24,8.4,8.57,8.73,8.9,9.06,9.23,9.39,9.56,9.72,9.89,10.05,10.22,10.38,10.55,10.71,10.88,10.95],
[7.5,7.66,7.83,7.99,8.16,8.32,8.49,8.65,8.82,8.98,9.15,9.31,9.48,9.64,9.81,9.97,10.14,10.3,10.47,10.63,10.8,10.96,11.02],
[7.44,7.6,7.77,7.93,8.1,8.26,8.43,8.59,8.76,8.92,9.09,9.25,9.42,9.58,9.75,9.91,10.08,10.24,10.41,10.57,10.74,10.9,11.05],
[7.4,7.56,7.73,7.89,8.06,8.22,8.39,8.55,8.72,8.88,9.05,9.21,9.38,9.54,9.71,9.87,10.04,10.2,10.37,10.53,10.7,10.86,11.02,11.1],
[7.45,7.61,7.78,7.94,8.11,8.27,8.44,8.6,8.77,8.93,9.1,9.26,9.43,9.59,9.76,9.92,10.09,10.25,10.42,10.58,10.75,10.91,11.06,11.14],
[7.5,7.66,7.83,7.99,8.16,8.32,8.49,8.65,8.82,8.98,9.15,9.31,9.48,9.64,9.81,9.97,10.14,10.3,10.47,10.63,10.8,10.96,11.07],
[7.55,7.71,7.88,8.04,8.21,8.37,8.54,8.7,8.87,9.03,9.2,9.36,9.53,9.69,9.86,10.02,10.19,10.35,10.52,10.68,10.85,11.01,11.08],
[7.62,7.78,7.95,8.11,8.28,8.44,8.61,8.77,8.94,9.1,9.27,9.43,9.6,9.76,9.93,10.09,10.26,10.42,10.59,10.75,10.92,11.02],
[7.68,7.84,8.01,8.17,8.34,8.5,8.67,8.83,9.0,9.16,9.33,9.49,9.66,9.82,9.99,10.15,10.32,10.48,10.65,10.81,10.96],
[7.74,7.9,8.07,8.23,8.4,8.56,8.73,8.89,9.06,9.22,9.39,9.55,9.72,9.88,10.05,10.21,10.38,10.54,10.71,10.87,10.95],
[7.84,8.0,8.17,8.33,8.5,8.66,8.83,8.99,9.16,9.32,9.49,9.65,9.82,9.98,10.15,10.31,10.48,10.64,10.8,10.88],
[7.95,8.11,8.28,8.44,8.61,8.77,8.94,9.1,9.27,9.43,9.6,9.76,9.93,10.09,10.26,10.42,10.59,10.75,10.84],
[8.05,8.21,8.38,8.54,8.71,8.87,9.04,9.2,9.37,9.53,9.7,9.86,10.03,10.19,10.36,10.52,10.69,10.77],
[8.18,8.34,8.51,8.67,8.84,9.0,9.17,9.33,9.5,9.66,9.83,9.99,10.16,10.32,10.49,10.65],
[8.33,8.49,8.66,8.82,8.99,9.15,9.32,9.48,9.65,9.81,9.98,10.14,10.31,10.47,10.56],
[8.46,8.62,8.79,8.95,9.12,9.28,9.45,9.61,9.78,9.94,10.11,10.27,10.44],
[8.56,8.72,8.89,9.05,9.22,9.38,9.55,9.71,9.88,10.04,10.21,10.35],
[8.66,8.82,8.99,9.15,9.32,9.48,9.65,9.81,9.98,10.14,10.25],
[8.76,8.92,9.09,9.25,9.42,9.58,9.75,9.91,10.08,10.15],
[8.86,9.02,9.19,9.35,9.52,9.68,9.85,10.01,10.05],
[8.96,9.12,9.29,9.45,9.62,9.78,9.94],
[9.03,9.19,9.36,9.52,9.69,9.85],
[9.09,9.25,9.42,9.58,9.74],
[9.16,9.32,9.49,9.65]];

const tfCore = [
[0.932,0.954,0.982,1.003,1.031,1.052,1.08,1.101,1.129,1.15,1.178,1.2],
[0.882,0.902,0.93,0.951,0.979,1.0,1.028,1.049,1.077,1.098,1.126,1.147,1.175,1.196,1.224,1.248],
[0.852,0.872,0.9,0.921,0.949,0.97,0.998,1.019,1.047,1.068,1.096,1.117,1.145,1.166,1.194,1.215,1.243,1.264,1.288],
[0.822,0.843,0.871,0.892,0.92,0.941,0.969,0.99,1.018,1.039,1.067,1.088,1.116,1.137,1.165,1.186,1.214,1.235,1.263,1.284,1.312],
[0.811,0.831,0.859,0.88,0.908,0.929,0.957,0.978,1.006,1.027,1.055,1.076,1.104,1.125,1.153,1.174,1.202,1.223,1.251,1.272,1.3,1.325],
[0.802,0.823,0.851,0.872,0.9,0.921,0.949,0.97,0.998,1.019,1.047,1.068,1.096,1.117,1.145,1.166,1.194,1.215,1.243,1.264,1.292,1.313,1.338],
[0.8,0.82,0.848,0.869,0.897,0.918,0.946,0.967,0.995,1.016,1.044,1.065,1.093,1.114,1.142,1.163,1.191,1.212,1.24,1.261,1.289,1.31,1.338,1.35],
[0.81,0.83,0.858,0.879,0.907,0.928,0.956,0.977,1.005,1.026,1.054,1.075,1.103,1.124,1.152,1.173,1.201,1.222,1.25,1.271,1.299,1.32,1.348],
[0.821,0.841,0.869,0.89,0.918,0.939,0.967,0.988,1.016,1.037,1.065,1.086,1.114,1.135,1.163,1.184,1.212,1.233,1.261,1.282,1.31,1.331,1.35],
[0.84,0.86,0.888,0.909,0.937,0.958,0.986,1.007,1.035,1.056,1.084,1.105,1.133,1.154,1.182,1.203,1.231,1.252,1.28,1.301,1.329,1.35],
[0.86,0.88,0.908,0.929,0.957,0.978,1.006,1.027,1.055,1.076,1.104,1.125,1.153,1.174,1.202,1.223,1.251,1.272,1.3,1.321,1.34],
[0.88,0.9,0.928,0.949,0.977,0.998,1.026,1.047,1.075,1.096,1.124,1.145,1.173,1.194,1.222,1.243,1.271,1.292,1.32,1.34],
[0.89,0.91,0.938,0.959,0.987,1.008,1.036,1.057,1.085,1.106,1.134,1.155,1.183,1.204,1.232,1.253,1.281,1.302,1.33],
[0.9,0.92,0.948,0.969,0.997,1.018,1.046,1.067,1.095,1.116,1.144,1.165,1.193,1.214,1.242,1.263,1.291,1.312,1.33],
[0.92,0.94,0.968,0.989,1.017,1.038,1.066,1.087,1.115,1.136,1.164,1.185,1.213,1.234,1.262,1.283,1.311,1.32],
[0.93,0.95,0.978,0.999,1.027,1.048,1.076,1.097,1.125,1.146,1.174,1.195,1.223,1.244,1.272,1.293,1.31],
[0.95,0.97,0.998,1.019,1.047,1.068,1.096,1.117,1.145,1.166,1.194,1.215,1.243,1.264,1.3],
[0.97,0.99,1.018,1.039,1.067,1.088,1.116,1.137,1.165,1.186,1.214,1.235,1.263,1.29],
[0.99,1.01,1.038,1.059,1.087,1.108,1.136,1.157,1.185,1.206,1.234,1.255,1.28],
[1.01,1.03,1.058,1.079,1.107,1.128,1.156,1.177,1.205,1.226,1.254,1.27],
[1.03,1.05,1.078,1.099,1.127,1.148,1.176,1.197,1.225,1.26],
[1.05,1.07,1.098,1.119,1.147,1.168,1.196,1.217,1.25],
[1.06,1.08,1.108,1.129,1.157,1.178,1.206,1.24],
[1.08,1.1,1.128,1.149,1.177,1.198,1.23],
[1.1,1.12,1.148,1.169,1.197,1.22],
[1.11,1.13,1.158,1.179,1.21],
[1.12,1.14,1.168,1.2],
[1.13,1.155,1.19]];
const tfCore2 = [
[0.905,0.929,0.953,0.977,1.001,1.025,1.049,1.073,1.097,1.121,1.145,1.169,1.193,1.217,1.235],
[0.867,0.891,0.915,0.939,0.963,0.987,1.011,1.035,1.059,1.083,1.107,1.131,1.155,1.179,1.203,1.227,1.251,1.27],
[0.838,0.862,0.886,0.91,0.934,0.958,0.982,1.006,1.03,1.054,1.078,1.102,1.126,1.15,1.174,1.198,1.222,1.246,1.27,1.3],
[0.815,0.839,0.863,0.887,0.911,0.935,0.959,0.983,1.007,1.031,1.055,1.079,1.103,1.127,1.151,1.175,1.199,1.223,1.247,1.271,1.295,1.32],
[0.805,0.829,0.853,0.877,0.901,0.925,0.949,0.973,0.997,1.021,1.045,1.069,1.093,1.117,1.141,1.165,1.189,1.213,1.237,1.261,1.285,1.309,1.333],
[0.795,0.819,0.843,0.867,0.891,0.915,0.939,0.963,0.987,1.011,1.035,1.059,1.083,1.107,1.131,1.155,1.179,1.203,1.227,1.251,1.275,1.299,1.323,1.345],
[0.8,0.824,0.848,0.872,0.896,0.92,0.944,0.968,0.992,1.016,1.04,1.064,1.088,1.112,1.136,1.16,1.184,1.208,1.232,1.256,1.28,1.304,1.328,1.352],
[0.811,0.835,0.859,0.883,0.907,0.931,0.955,0.979,1.003,1.027,1.051,1.075,1.099,1.123,1.147,1.171,1.195,1.219,1.243,1.267,1.291,1.315,1.339,1.356],
[0.826,0.85,0.874,0.898,0.922,0.946,0.97,0.994,1.018,1.042,1.066,1.09,1.114,1.138,1.162,1.186,1.21,1.234,1.258,1.282,1.306,1.33,1.35],
[0.848,0.872,0.896,0.92,0.944,0.968,0.992,1.016,1.04,1.064,1.088,1.112,1.136,1.16,1.184,1.208,1.232,1.256,1.28,1.304,1.328,1.348],
[0.868,0.892,0.916,0.94,0.964,0.988,1.012,1.036,1.06,1.084,1.108,1.132,1.156,1.18,1.204,1.228,1.252,1.276,1.3,1.324,1.342],
[0.883,0.907,0.931,0.955,0.979,1.003,1.027,1.051,1.075,1.099,1.123,1.147,1.171,1.195,1.219,1.243,1.267,1.291,1.315,1.337],
[0.895,0.919,0.943,0.967,0.991,1.015,1.039,1.063,1.087,1.111,1.135,1.159,1.183,1.207,1.231,1.255,1.279,1.303,1.327],
[0.91,0.934,0.958,0.982,1.006,1.03,1.054,1.078,1.102,1.126,1.15,1.174,1.198,1.222,1.246,1.27,1.294,1.318],
[0.925,0.949,0.973,0.997,1.021,1.045,1.069,1.093,1.117,1.141,1.165,1.189,1.213,1.237,1.261,1.285,1.309],
[0.94,0.964,0.988,1.012,1.036,1.06,1.084,1.108,1.132,1.156,1.18,1.204,1.228,1.252,1.276,1.3],
[0.96,0.984,1.008,1.032,1.056,1.08,1.104,1.128,1.152,1.176,1.2,1.224,1.248,1.272,1.294],
[0.98,1.004,1.028,1.052,1.076,1.1,1.124,1.148,1.172,1.196,1.22,1.244,1.268,1.285],
[1.0,1.024,1.048,1.072,1.096,1.12,1.144,1.168,1.192,1.216,1.24,1.264,1.276],
[1.02,1.044,1.068,1.092,1.116,1.14,1.164,1.188,1.212,1.236,1.26,1.268],
[1.04,1.064,1.088,1.112,1.136,1.16,1.184,1.208,1.232,1.255],
[1.055,1.079,1.103,1.127,1.151,1.175,1.199,1.223,1.245],
[1.07,1.094,1.118,1.142,1.166,1.19,1.214,1.235],
[1.09,1.114,1.138,1.162,1.186,1.21,1.225],
[1.105,1.129,1.153,1.177,1.201,1.215],
[1.115,1.139,1.163,1.187,1.205],
[1.125,1.149,1.173,1.195]];

const agCore = [
[4.1,4.22,4.31,4.44,4.53,4.66,4.75,4.88,4.97,5.1,5.19,5.3],
[3.97,4.05,4.16,4.24,4.35,4.43,4.54,4.62,4.73,4.81,4.92,5.0,5.11,5.19,5.3,5.38,5.45],
[3.9,3.98,4.09,4.17,4.28,4.36,4.47,4.55,4.66,4.74,4.85,4.93,5.04,5.12,5.23,5.31,5.42,5.5,5.55],
[3.86,3.94,4.05,4.13,4.24,4.32,4.43,4.51,4.62,4.7,4.81,4.89,5.0,5.08,5.19,5.27,5.38,5.46,5.6],
[3.84,3.92,4.03,4.11,4.22,4.3,4.41,4.49,4.6,4.68,4.79,4.87,4.98,5.06,5.17,5.25,5.36,5.44,5.55,5.62],
[3.83,3.91,4.02,4.1,4.21,4.29,4.4,4.48,4.59,4.67,4.78,4.86,4.97,5.05,5.16,5.24,5.35,5.43,5.54,5.63],
[3.85,3.93,4.04,4.12,4.23,4.31,4.42,4.5,4.61,4.69,4.8,4.88,4.99,5.07,5.18,5.26,5.37,5.45,5.56,5.63],
[3.86,3.94,4.05,4.13,4.24,4.32,4.43,4.51,4.62,4.7,4.81,4.89,5.0,5.08,5.19,5.27,5.38,5.46,5.57,5.63],
[3.88,3.96,4.07,4.15,4.26,4.34,4.45,4.53,4.64,4.72,4.83,4.91,5.02,5.1,5.21,5.29,5.4,5.48,5.59],
[3.9,3.98,4.09,4.17,4.28,4.36,4.47,4.55,4.66,4.74,4.85,4.93,5.04,5.12,5.23,5.31,5.42,5.5,5.61],
[3.93,4.01,4.12,4.2,4.31,4.39,4.5,4.58,4.69,4.77,4.88,4.96,5.07,5.15,5.26,5.34,5.45,5.53,5.61],
[3.96,4.04,4.15,4.23,4.34,4.42,4.53,4.61,4.72,4.8,4.91,4.99,5.1,5.18,5.29,5.37,5.48,5.56],
[4.0,4.08,4.19,4.27,4.38,4.46,4.57,4.65,4.76,4.84,4.95,5.03,5.14,5.22,5.33,5.41,5.52,5.58],
[4.05,4.13,4.24,4.32,4.43,4.51,4.62,4.7,4.81,4.89,5.0,5.08,5.19,5.27,5.38,5.46,5.57],
[4.1,4.18,4.29,4.37,4.48,4.56,4.67,4.75,4.86,4.94,5.05,5.13,5.24,5.32,5.43,5.55],
[4.17,4.25,4.36,4.44,4.55,4.63,4.74,4.82,4.93,5.01,5.12,5.2,5.31,5.39,5.53],
[4.25,4.33,4.44,4.52,4.63,4.71,4.82,4.9,5.01,5.09,5.2,5.28,5.39,5.51],
[4.33,4.41,4.52,4.6,4.71,4.79,4.9,4.98,5.09,5.17,5.28,5.36,5.49],
[4.4,4.48,4.59,4.67,4.78,4.86,4.97,5.05,5.16,5.24,5.35,5.47],
[4.47,4.55,4.66,4.74,4.85,4.93,5.04,5.12,5.23,5.31,5.45],
[4.53,4.61,4.72,4.8,4.91,4.99,5.1,5.18,5.29,5.42],
[4.6,4.68,4.79,4.87,4.98,5.06,5.17,5.25,5.4],
[4.66,4.74,4.85,4.93,5.04,5.12,5.23,5.37],
[4.72,4.8,4.91,4.99,5.1,5.18,5.33],
[4.78,4.86,4.97,5.05,5.16,5.3],
[4.84,4.92,5.03,5.11,5.26],
[4.9,4.98,5.09,5.2],
[4.95,5.04,5.15]];
const agCore2 = [
[4.03,4.12,4.21,4.3,4.39,4.48,4.57,4.66,4.75,4.84,4.93,5.02,5.11,5.2,5.29,5.38],
[3.93,4.02,4.11,4.2,4.29,4.38,4.47,4.56,4.65,4.74,4.83,4.92,5.01,5.1,5.19,5.28,5.37,5.46,5.52],
[3.88,3.97,4.06,4.15,4.24,4.33,4.42,4.51,4.6,4.69,4.78,4.87,4.96,5.05,5.14,5.23,5.32,5.41,5.5,5.58],
[3.85,3.94,4.03,4.12,4.21,4.3,4.39,4.48,4.57,4.66,4.75,4.84,4.93,5.02,5.11,5.2,5.29,5.38,5.47,5.56,5.62],
[3.81,3.9,3.99,4.08,4.17,4.26,4.35,4.44,4.53,4.62,4.71,4.8,4.89,4.98,5.07,5.16,5.25,5.34,5.43,5.52,5.61,5.65],
[3.8,3.89,3.98,4.07,4.16,4.25,4.34,4.43,4.52,4.61,4.7,4.79,4.88,4.97,5.06,5.15,5.24,5.33,5.42,5.51,5.6,5.66],
[3.82,3.91,4.0,4.09,4.18,4.27,4.36,4.45,4.54,4.63,4.72,4.81,4.9,4.99,5.08,5.17,5.26,5.35,5.44,5.53,5.62],
[3.84,3.93,4.02,4.11,4.2,4.29,4.38,4.47,4.56,4.65,4.74,4.83,4.92,5.01,5.1,5.19,5.28,5.37,5.46,5.55,5.64],
[3.86,3.95,4.04,4.13,4.22,4.31,4.4,4.49,4.58,4.67,4.76,4.85,4.94,5.03,5.12,5.21,5.3,5.39,5.48,5.57,5.63],
[3.89,3.98,4.07,4.16,4.25,4.34,4.43,4.52,4.61,4.7,4.79,4.88,4.97,5.06,5.15,5.24,5.33,5.42,5.51,5.6],
[3.92,4.01,4.1,4.19,4.28,4.37,4.46,4.55,4.64,4.73,4.82,4.91,5.0,5.09,5.18,5.27,5.36,5.45,5.54,5.61],
[3.96,4.05,4.14,4.23,4.32,4.41,4.5,4.59,4.68,4.77,4.86,4.95,5.04,5.13,5.22,5.31,5.4,5.49,5.58],
[4.02,4.11,4.2,4.29,4.38,4.47,4.56,4.65,4.74,4.83,4.92,5.01,5.1,5.19,5.28,5.37,5.46,5.55],
[4.07,4.16,4.25,4.34,4.43,4.52,4.61,4.7,4.79,4.88,4.97,5.06,5.15,5.24,5.33,5.42,5.51,5.57],
[4.13,4.22,4.31,4.4,4.49,4.58,4.67,4.76,4.85,4.94,5.03,5.12,5.21,5.3,5.39,5.48,5.54],
[4.21,4.3,4.39,4.48,4.57,4.66,4.75,4.84,4.93,5.02,5.11,5.2,5.29,5.38,5.47,5.52],
[4.29,4.38,4.47,4.56,4.65,4.74,4.83,4.92,5.01,5.1,5.19,5.28,5.37,5.46,5.5],
[4.36,4.45,4.54,4.63,4.72,4.81,4.9,4.99,5.08,5.17,5.26,5.35,5.44,5.48],
[4.44,4.53,4.62,4.71,4.8,4.89,4.98,5.07,5.16,5.25,5.34,5.43],
[4.5,4.59,4.68,4.77,4.86,4.95,5.04,5.13,5.22,5.31,5.4],
[4.57,4.66,4.75,4.84,4.93,5.02,5.11,5.2,5.29,5.38],
[4.63,4.72,4.81,4.9,4.99,5.08,5.17,5.26,5.35],
[4.69,4.78,4.87,4.96,5.05,5.14,5.23,5.32],
[4.75,4.84,4.93,5.02,5.11,5.2,5.28],
[4.81,4.9,4.99,5.08,5.17,5.25],
[4.87,4.96,5.05,5.14,5.21],
[4.92,5.01,5.1,5.16]];

const scattered = [acPts, hcPts, tfPts, agPts];
const halos = [acHalo, hcHalo, tfHalo, agHalo];
const cores = [acCore, hcCore, tfCore, agCore];
const cores2 = [acCore2, hcCore2, tfCore2, agCore2];

// ---------- layout ----------
const FONT = '"Liberation Sans", Arial, Helvetica, sans-serif';
const cols = [{left: 0, ml: 49.3, mr: 8, tagX: 10, subX: 49.3, yT: 13.5}, {left: 536, ml: 53.3, mr: 4, tagX: 549, subX: 589.3, yT: 553.5}];
const rows = [{top: 58, h: 372, mt: 5.3, mb: 50, tagTop: 4, sub1: 19.8, sub2: 37.3, xT: 399.5, yC: 222},
              {top: 490.4, h: 362.6, mt: 5.3, mb: 40.7, tagTop: 436.3, sub1: 452.2, sub2: 469.7, xT: 831.8, yC: 654}];

const root = document.getElementById("root");
function addText(txt, cls, left, top) {
  const d = document.createElement("div");
  d.className = "t " + cls;
  d.textContent = txt;
  d.style.left = left + "px";
  d.style.top = top + "px";
  root.appendChild(d);
}

for (let i = 0; i < 4; i++) {
  const c = cols[i % 2], r = rows[Math.floor(i / 2)];
  const pts = [];
  cores[i].forEach((row, j) => row.forEach(x => pts.push({x, y: coreY[j]})));
  cores2[i].forEach((row, j) => row.forEach(x => pts.push({x, y: coreY2[j]})));
  scattered[i].forEach(([x, y]) => pts.push({x, y}));
  halos[i].forEach(([x, y]) => pts.push({x, y}));
  const fmtX = d => xTickText[i][xTicks[i].indexOf(d)];
  const fmtY = d => yTickText[yTicks.indexOf(d)];
  const chart = Plot.plot({
    width: 536, height: r.h,
    marginLeft: c.ml, marginRight: c.mr, marginTop: r.mt, marginBottom: r.mb,
    style: {fontFamily: FONT, fontSize: "12px", color: "#4d4d4d", background: "transparent", overflow: "visible"},
    x: {domain: xDomains[i]},
    y: {domain: yDomain},
    marks: [
      Plot.dot(pts, {x: "x", y: "y", r: 3.6, fill: "#000", fillOpacity: 0.72, stroke: "none"}),
      Plot.axisX(xTicks[i], {tickSize: 3.6, tickPadding: 4.6, tickFormat: fmtX, label: null, stroke: "#333"}),
      Plot.axisY(yTicks, {tickSize: 3.6, tickPadding: 6, tickFormat: fmtY, label: null, stroke: "#333"}),
      Plot.ruleX([xDomains[i][0]], {stroke: "#000", strokeWidth: 1.2}),
      Plot.ruleY([yDomain[0]], {stroke: "#000", strokeWidth: 1.2})
    ]
  });
  chart.style.left = c.left + "px";
  chart.style.top = r.top + "px";
  root.appendChild(chart);
  const cx = c.left + c.ml + (536 - c.ml - c.mr) / 2;
  addText(tags[i], "tag", c.tagX, r.tagTop);
  addText("Spearman Correlation = " + rhos[i], "sub", c.subX, r.sub1);
  addText("P-Value = " + pvals[i], "sub", c.subX, r.sub2);
  addText(xLabels[i], "xt", cx, r.xT);
  addText(yLabel, "yt", c.yT, r.yC);
}
</script>
</body></html>
